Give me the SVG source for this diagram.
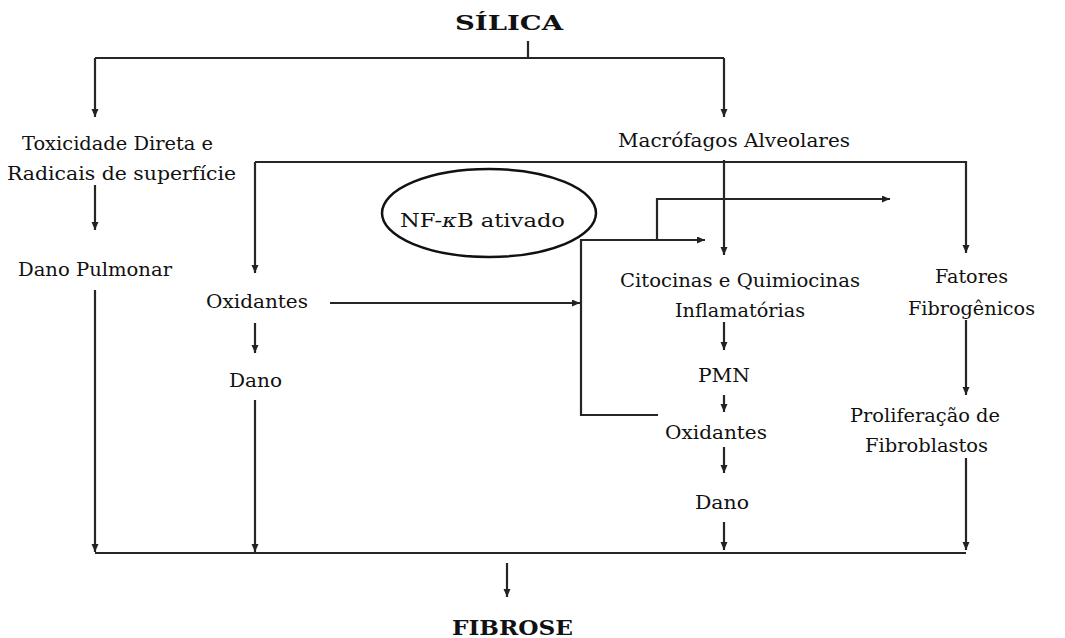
<svg xmlns="http://www.w3.org/2000/svg" width="1065" height="638" viewBox="0 0 1065 638">
<defs>
<marker id="ah" markerUnits="userSpaceOnUse" markerWidth="8" markerHeight="8" refX="8" refY="3.5" orient="auto"><path d="M0,0 L8,3.5 L0,7 z" fill="#222"/></marker>
<style>
.t{font-family:"DejaVu Serif","Liberation Serif",serif;font-size:18px;fill:#111}
.b{font-family:"DejaVu Serif","Liberation Serif",serif;font-size:20px;font-weight:bold;fill:#111}
.c path{fill:none;stroke:#262626;stroke-width:2.2}
.a{marker-end:url(#ah)}
</style>
</defs>
<rect width="1065" height="638" fill="#fff"/>
<g class="c" id="connectors">
<path d="M528 41 V58"/>
<path d="M95 58 H724"/>
<path class="a" d="M95 58 V117"/>
<path class="a" d="M724 58 V117"/>
<path class="a" d="M95 185 V230"/>
<path class="a" d="M95 290 V552"/>
<path class="a" d="M255 162 H966 V253"/>
<path class="a" d="M255 162 V273"/>
<path class="a" d="M724 160 V255"/>
<path class="a" d="M255 323 V353"/>
<path class="a" d="M255 400 V552"/>
<path class="a" d="M330 303 H580"/>
<path class="a" d="M658 415 H581 V240 H705"/>
<path class="a" d="M657 240 V199 H890"/>
<path class="a" d="M724 322 V350"/>
<path class="a" d="M724 395 V412"/>
<path class="a" d="M724 447 V473"/>
<path class="a" d="M724 522 V550"/>
<path class="a" d="M966 320 V395"/>
<path class="a" d="M966 458 V550"/>
<path d="M95 553 H966"/>
<path class="a" d="M507 563 V597"/>
</g>
<g id="silica"><text class="b" x="455" y="30" textLength="108" lengthAdjust="spacingAndGlyphs">SÍLICA</text></g>
<g id="toxicidade"><text class="t" x="22" y="150" textLength="191" lengthAdjust="spacingAndGlyphs">Toxicidade Direta e</text><text class="t" x="7" y="180" textLength="229" lengthAdjust="spacingAndGlyphs">Radicais de superfície</text></g>
<g id="macrofagos"><text class="t" x="618" y="147" textLength="232" lengthAdjust="spacingAndGlyphs">Macrófagos Alveolares</text></g>
<g id="nfkb"><ellipse cx="489" cy="213" rx="107" ry="44" fill="none" stroke="#111" stroke-width="2.5"/><text class="t" x="400" y="227" textLength="165" lengthAdjust="spacingAndGlyphs">NF-<tspan font-style="italic">κ</tspan>B ativado</text></g>
<g id="danoPulmonar"><text class="t" x="18" y="276" textLength="154" lengthAdjust="spacingAndGlyphs">Dano Pulmonar</text></g>
<g id="oxidantes1"><text class="t" x="206" y="308" textLength="102" lengthAdjust="spacingAndGlyphs">Oxidantes</text></g>
<g id="dano1"><text class="t" x="229" y="387" textLength="53" lengthAdjust="spacingAndGlyphs">Dano</text></g>
<g id="citocinas"><text class="t" x="620" y="287" textLength="240" lengthAdjust="spacingAndGlyphs">Citocinas e Quimiocinas</text><text class="t" x="675" y="317" textLength="130" lengthAdjust="spacingAndGlyphs">Inflamatórias</text></g>
<g id="pmn"><text class="t" x="698" y="382" textLength="52" lengthAdjust="spacingAndGlyphs">PMN</text></g>
<g id="oxidantes2"><text class="t" x="665" y="439" textLength="102" lengthAdjust="spacingAndGlyphs">Oxidantes</text></g>
<g id="dano2"><text class="t" x="695" y="509" textLength="54" lengthAdjust="spacingAndGlyphs">Dano</text></g>
<g id="fatores"><text class="t" x="935" y="283" textLength="73" lengthAdjust="spacingAndGlyphs">Fatores</text><text class="t" x="908" y="315" textLength="127" lengthAdjust="spacingAndGlyphs">Fibrogênicos</text></g>
<g id="proliferacao"><text class="t" x="850" y="422" textLength="150" lengthAdjust="spacingAndGlyphs">Proliferação de</text><text class="t" x="865" y="452" textLength="123" lengthAdjust="spacingAndGlyphs">Fibroblastos</text></g>
<g id="fibrose"><text class="b" x="452" y="635" textLength="121" lengthAdjust="spacingAndGlyphs">FIBROSE</text></g>
</svg>
